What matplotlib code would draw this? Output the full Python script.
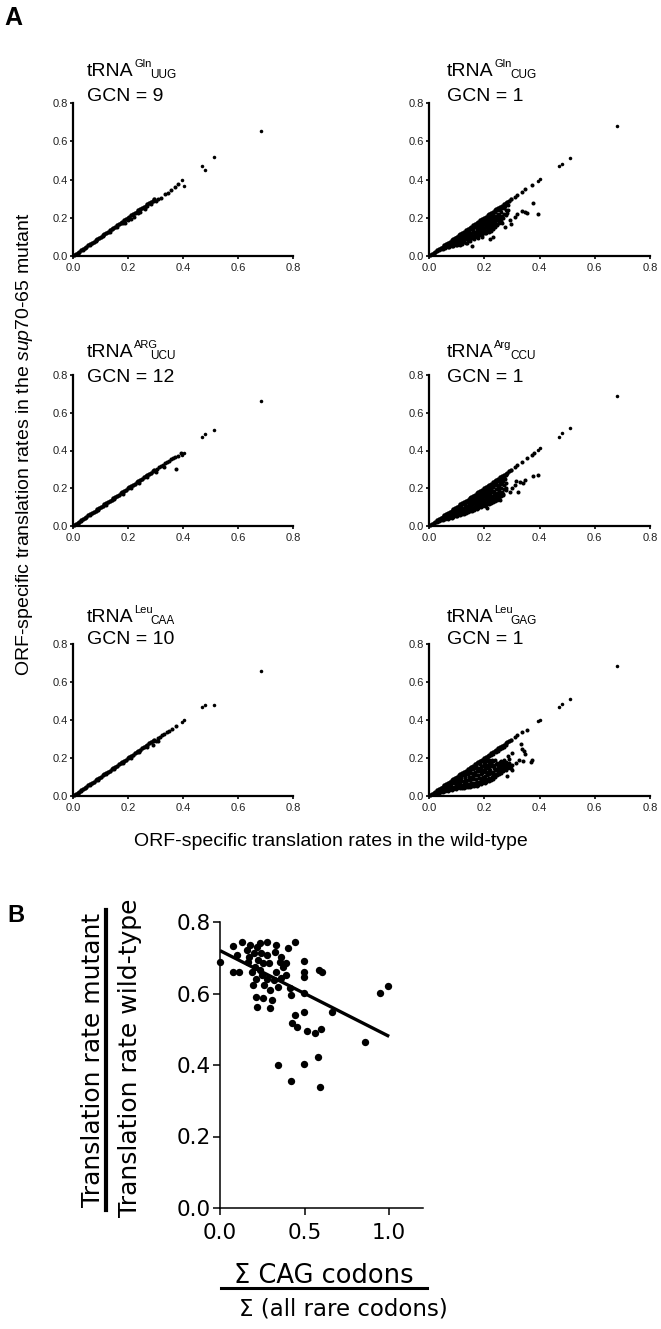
import matplotlib
matplotlib.use('Agg')
import matplotlib.pyplot as plt
from matplotlib.text import Annotation
from matplotlib.lines import Line2D

plt.rcParams['font.family'] = ['Liberation Sans', 'DejaVu Sans']
plt.rcParams['mathtext.fontset'] = 'custom'
plt.rcParams['mathtext.rm'] = 'Liberation Sans'
plt.rcParams['mathtext.it'] = 'Liberation Sans:italic'

# ---------------- Panel A data ----------------
amino_acids = ['Gln', 'Gln', 'ARG', 'Arg', 'Leu', 'Leu']
anticodons = ['UUG', 'CUG', 'UCU', 'CCU', 'CAA', 'GAG']
gcn_values = [9, 1, 12, 1, 10, 1]
ticks_a = [0.0, 0.2, 0.4, 0.6, 0.8]
tick_labels_a = ['0.0', '0.2', '0.4', '0.6', '0.8']

# genes that are unaffected (lie on the identity line) in all panels
wt_diag = [0.004, 0.010, 0.017, 0.023, 0.030, 0.036, 0.043, 0.049, 0.056, 0.062,
           0.069, 0.075, 0.082, 0.088, 0.095, 0.101, 0.108, 0.114, 0.121, 0.127,
           0.134, 0.140, 0.147, 0.153, 0.160, 0.166, 0.173, 0.179, 0.186, 0.192,
           0.199, 0.205, 0.212, 0.218, 0.225, 0.231, 0.238, 0.244, 0.251, 0.257,
           0.264, 0.270, 0.277, 0.283, 0.290, 0.296]

# highly translated outlier genes (wild-type rate), mutant rate per panel
wt_out = [0.682, 0.511, 0.481, 0.469, 0.402, 0.396]
uug_out = [0.656, 0.517, 0.450, 0.473, 0.368, 0.395]
cug_out = [0.682, 0.511, 0.482, 0.471, 0.401, 0.394]
ucu_out = [0.662, 0.510, 0.488, 0.470, 0.385, 0.378]
ccu_out = [0.689, 0.518, 0.491, 0.473, 0.412, 0.403]
caa_out = [0.660, 0.480, 0.478, 0.468, 0.400, 0.392]
gag_out = [0.682, 0.511, 0.482, 0.471, 0.401, 0.394]

uug_wt = [0.035, 0.06, 0.085, 0.11, 0.135, 0.16, 0.18, 0.19, 0.2, 0.21, 0.22, 0.235,
          0.245, 0.26, 0.27, 0.285, 0.3, 0.31, 0.32, 0.335, 0.345, 0.355, 0.37, 0.38]
uug_mut = [0.033, 0.057, 0.081, 0.104, 0.128, 0.152, 0.17, 0.172, 0.19, 0.196, 0.205, 0.225,
           0.228, 0.247, 0.262, 0.27, 0.29, 0.3, 0.305, 0.325, 0.33, 0.345, 0.36, 0.375]

cug_wt = [0.030, 0.044, 0.047, 0.058, 0.062, 0.073, 0.077, 0.075, 0.088, 0.092, 0.09,
          0.103, 0.107, 0.105, 0.101, 0.118, 0.122, 0.12, 0.116,
          0.133, 0.137, 0.135, 0.131, 0.138, 0.148, 0.152, 0.15, 0.146, 0.153,
          0.163, 0.167, 0.165, 0.161, 0.168, 0.162, 0.178, 0.182, 0.18, 0.176, 0.183, 0.177,
          0.193, 0.197, 0.195, 0.191, 0.198, 0.192, 0.208, 0.212, 0.21, 0.206, 0.213, 0.207,
          0.223, 0.227, 0.225, 0.221, 0.228, 0.222, 0.226, 0.238, 0.242, 0.24, 0.236, 0.243, 0.239,
          0.253, 0.257, 0.255, 0.258, 0.268, 0.272, 0.27, 0.283, 0.287,
          0.31, 0.32, 0.335, 0.348, 0.372, 0.348, 0.336, 0.318, 0.312, 0.354, 0.293, 0.297,
          0.275, 0.263, 0.245, 0.233, 0.221, 0.193, 0.155, 0.136, 0.112, 0.287, 0.269, 0.376, 0.396]
cug_mut = [0.024, 0.035, 0.042, 0.042, 0.052, 0.045, 0.058, 0.068, 0.05, 0.065, 0.08,
           0.055, 0.07, 0.085, 0.098, 0.062, 0.078, 0.092, 0.108,
           0.07, 0.087, 0.1, 0.115, 0.127, 0.078, 0.095, 0.11, 0.125, 0.14,
           0.088, 0.105, 0.12, 0.135, 0.15, 0.158, 0.096, 0.112, 0.128, 0.143, 0.158, 0.17,
           0.11, 0.125, 0.14, 0.155, 0.17, 0.182, 0.12, 0.135, 0.15, 0.165, 0.18, 0.195,
           0.13, 0.145, 0.16, 0.175, 0.19, 0.205, 0.215, 0.15, 0.165, 0.18, 0.195, 0.21, 0.228,
           0.17, 0.2, 0.215, 0.24, 0.2, 0.22, 0.25, 0.225, 0.265,
           0.31, 0.32, 0.335, 0.349, 0.372, 0.232, 0.237, 0.22, 0.206, 0.223, 0.188, 0.168,
           0.154, 0.171, 0.188, 0.101, 0.091, 0.101, 0.052, 0.066, 0.058, 0.241, 0.258, 0.276, 0.22]
cug_fill_wt = [0.037, 0.052, 0.053, 0.067, 0.068, 0.066, 0.082, 0.083, 0.081,
               0.097, 0.098, 0.096, 0.099, 0.112, 0.113, 0.111, 0.114,
               0.127, 0.128, 0.126, 0.129, 0.127, 0.142, 0.143, 0.141, 0.144, 0.142,
               0.157, 0.158, 0.156, 0.159, 0.157, 0.158, 0.172, 0.173, 0.171, 0.174, 0.172, 0.173,
               0.187, 0.188, 0.186, 0.189, 0.187, 0.188, 0.202, 0.203, 0.201, 0.204, 0.202, 0.203, 0.201,
               0.217, 0.218, 0.216, 0.219, 0.217, 0.218, 0.216, 0.232, 0.233, 0.231, 0.234, 0.232, 0.233, 0.231,
               0.247, 0.248, 0.246, 0.249, 0.247, 0.262, 0.263, 0.261, 0.264, 0.277, 0.278, 0.276]
cug_fill_mut = [0.03, 0.038, 0.047, 0.045, 0.055, 0.062, 0.05, 0.062, 0.074,
                0.058, 0.072, 0.086, 0.093, 0.065, 0.078, 0.092, 0.104,
                0.074, 0.088, 0.102, 0.115, 0.122, 0.083, 0.097, 0.11, 0.122, 0.133,
                0.092, 0.106, 0.12, 0.132, 0.145, 0.152, 0.1, 0.114, 0.128, 0.142, 0.155, 0.165,
                0.108, 0.122, 0.136, 0.15, 0.163, 0.176, 0.118, 0.132, 0.146, 0.16, 0.174, 0.188, 0.196,
                0.128, 0.142, 0.156, 0.17, 0.185, 0.2, 0.21, 0.14, 0.155, 0.17, 0.185, 0.2, 0.215, 0.225,
                0.16, 0.19, 0.205, 0.222, 0.238, 0.185, 0.21, 0.23, 0.25, 0.215, 0.24, 0.26]

ucu_wt = [0.03, 0.06, 0.09, 0.12, 0.15, 0.18, 0.21, 0.24, 0.27, 0.3, 0.305, 0.312,
          0.32, 0.328, 0.335, 0.342, 0.35, 0.357, 0.364, 0.37, 0.38, 0.392, 0.375, 0.33]
ucu_mut = [0.028, 0.056, 0.085, 0.113, 0.141, 0.17, 0.199, 0.228, 0.257, 0.285, 0.303, 0.31,
           0.318, 0.325, 0.333, 0.34, 0.347, 0.354, 0.36, 0.366, 0.372, 0.385, 0.30, 0.31]

ccu_wt = [0.029, 0.032, 0.044, 0.047, 0.058, 0.062, 0.06, 0.073, 0.077, 0.075,
          0.088, 0.092, 0.09, 0.091, 0.103, 0.107, 0.105, 0.104,
          0.118, 0.122, 0.12, 0.117, 0.121, 0.133, 0.137, 0.135, 0.132, 0.136,
          0.148, 0.152, 0.15, 0.147, 0.151, 0.149, 0.163, 0.167, 0.165, 0.162, 0.166, 0.164,
          0.178, 0.182, 0.18, 0.177, 0.181, 0.179, 0.193, 0.197, 0.195, 0.192, 0.196, 0.194, 0.198,
          0.208, 0.212, 0.21, 0.207, 0.211, 0.209, 0.213, 0.223, 0.227, 0.225, 0.222, 0.226, 0.224, 0.228,
          0.238, 0.242, 0.24, 0.237, 0.241, 0.239, 0.243, 0.253, 0.257, 0.255, 0.252, 0.256, 0.258,
          0.268, 0.272, 0.27, 0.267, 0.271,
          0.31, 0.32, 0.335, 0.354, 0.372, 0.38, 0.396, 0.378, 0.347, 0.341, 0.329, 0.323,
          0.311, 0.293, 0.269, 0.257, 0.233, 0.221, 0.209, 0.191, 0.30, 0.28, 0.315, 0.25]
ccu_mut = [0.02, 0.027, 0.03, 0.04, 0.036, 0.048, 0.056, 0.042, 0.055, 0.068,
           0.048, 0.062, 0.076, 0.086, 0.055, 0.07, 0.084, 0.098,
           0.062, 0.077, 0.092, 0.106, 0.116, 0.07, 0.085, 0.1, 0.114, 0.128,
           0.078, 0.093, 0.108, 0.122, 0.137, 0.146, 0.086, 0.1, 0.116, 0.13, 0.145, 0.158,
           0.094, 0.108, 0.123, 0.138, 0.153, 0.168, 0.105, 0.118, 0.133, 0.148, 0.163, 0.178, 0.188,
           0.11, 0.126, 0.142, 0.157, 0.172, 0.188, 0.2, 0.12, 0.135, 0.15, 0.165, 0.18, 0.196, 0.212,
           0.13, 0.148, 0.165, 0.18, 0.196, 0.215, 0.228, 0.15, 0.168, 0.185, 0.205, 0.225, 0.243,
           0.17, 0.195, 0.215, 0.24, 0.258,
           0.31, 0.322, 0.338, 0.359, 0.376, 0.385, 0.27, 0.267, 0.244, 0.226, 0.235, 0.182,
           0.217, 0.182, 0.164, 0.138, 0.182, 0.12, 0.094, 0.111, 0.2, 0.19, 0.24, 0.2]
ccu_fill_wt = [0.037, 0.038, 0.052, 0.053, 0.051, 0.067, 0.068, 0.066, 0.082, 0.083, 0.081, 0.084,
               0.097, 0.098, 0.096, 0.099, 0.112, 0.113, 0.111, 0.114, 0.112,
               0.127, 0.128, 0.126, 0.129, 0.127, 0.142, 0.143, 0.141, 0.144, 0.142, 0.143,
               0.157, 0.158, 0.156, 0.159, 0.157, 0.158, 0.172, 0.173, 0.171, 0.174, 0.172, 0.173,
               0.187, 0.188, 0.186, 0.189, 0.187, 0.188, 0.186, 0.202, 0.203, 0.201, 0.204, 0.202, 0.203, 0.201,
               0.217, 0.218, 0.216, 0.219, 0.217, 0.218, 0.216, 0.232, 0.233, 0.231, 0.234, 0.232, 0.233, 0.231,
               0.247, 0.248, 0.246, 0.249, 0.247, 0.248, 0.262, 0.263, 0.261, 0.264, 0.262, 0.263,
               0.277, 0.278, 0.276, 0.279]
ccu_fill_mut = [0.024, 0.032, 0.033, 0.043, 0.05, 0.039, 0.051, 0.062, 0.045, 0.058, 0.07, 0.078,
                0.052, 0.066, 0.08, 0.092, 0.058, 0.073, 0.088, 0.1, 0.108,
                0.066, 0.081, 0.096, 0.11, 0.122, 0.074, 0.089, 0.104, 0.118, 0.132, 0.14,
                0.082, 0.096, 0.112, 0.126, 0.141, 0.152, 0.09, 0.104, 0.12, 0.134, 0.149, 0.163,
                0.1, 0.113, 0.128, 0.143, 0.158, 0.173, 0.182, 0.108, 0.122, 0.137, 0.152, 0.167, 0.183, 0.195,
                0.115, 0.13, 0.146, 0.162, 0.177, 0.193, 0.208, 0.125, 0.142, 0.158, 0.172, 0.188, 0.205, 0.222,
                0.14, 0.158, 0.175, 0.195, 0.215, 0.236, 0.16, 0.18, 0.2, 0.22, 0.24, 0.252,
                0.2, 0.23, 0.25, 0.27]

caa_wt = [0.03, 0.06, 0.09, 0.12, 0.15, 0.18, 0.21, 0.24, 0.27, 0.3, 0.308, 0.316,
          0.324, 0.332, 0.34, 0.35, 0.36, 0.375, 0.29, 0.31]
caa_mut = [0.028, 0.057, 0.086, 0.114, 0.143, 0.172, 0.2, 0.229, 0.258, 0.287, 0.305, 0.313,
           0.32, 0.327, 0.335, 0.343, 0.355, 0.37, 0.27, 0.29]

gag_wt = [0.029, 0.032, 0.044, 0.047, 0.046, 0.058, 0.062, 0.06, 0.073, 0.077, 0.075, 0.076,
          0.088, 0.092, 0.09, 0.091, 0.103, 0.107, 0.105, 0.104, 0.106,
          0.118, 0.122, 0.12, 0.117, 0.121, 0.133, 0.137, 0.135, 0.132, 0.136, 0.138,
          0.148, 0.152, 0.15, 0.147, 0.151, 0.149, 0.163, 0.167, 0.165, 0.162, 0.166, 0.164, 0.168,
          0.178, 0.182, 0.18, 0.177, 0.181, 0.179, 0.183,
          0.193, 0.197, 0.195, 0.192, 0.196, 0.194, 0.198, 0.195,
          0.208, 0.212, 0.21, 0.207, 0.211, 0.209, 0.213, 0.21,
          0.223, 0.227, 0.225, 0.222, 0.226, 0.224, 0.228, 0.225,
          0.238, 0.242, 0.24, 0.237, 0.241, 0.239, 0.243,
          0.253, 0.257, 0.255, 0.252, 0.256, 0.258, 0.268, 0.272, 0.27, 0.267, 0.271, 0.27,
          0.283, 0.287, 0.285, 0.286, 0.298, 0.302,
          0.31, 0.32, 0.336, 0.354, 0.374, 0.37, 0.348, 0.345, 0.336, 0.333, 0.3, 0.302,
          0.281, 0.342, 0.324, 0.315, 0.29]
gag_mut = [0.015, 0.026, 0.02, 0.034, 0.044, 0.026, 0.04, 0.055, 0.03, 0.045, 0.06, 0.072,
           0.035, 0.05, 0.066, 0.085, 0.04, 0.056, 0.072, 0.088, 0.1,
           0.042, 0.06, 0.078, 0.095, 0.112, 0.045, 0.062, 0.08, 0.098, 0.115, 0.13,
           0.05, 0.067, 0.085, 0.102, 0.12, 0.138, 0.052, 0.07, 0.09, 0.108, 0.126, 0.145, 0.16,
           0.058, 0.076, 0.095, 0.113, 0.132, 0.15, 0.168,
           0.066, 0.084, 0.1, 0.12, 0.138, 0.156, 0.175, 0.19,
           0.075, 0.092, 0.11, 0.128, 0.146, 0.165, 0.183, 0.2,
           0.085, 0.102, 0.12, 0.138, 0.156, 0.174, 0.192, 0.215,
           0.1, 0.118, 0.136, 0.154, 0.17, 0.19, 0.23,
           0.115, 0.13, 0.15, 0.165, 0.18, 0.245, 0.13, 0.15, 0.165, 0.176, 0.19, 0.26,
           0.145, 0.16, 0.17, 0.21, 0.15, 0.165,
           0.31, 0.322, 0.337, 0.349, 0.188, 0.18, 0.223, 0.237, 0.25, 0.272, 0.227, 0.136,
           0.105, 0.185, 0.188, 0.175, 0.195]
gag_fill_wt = [0.037, 0.038, 0.052, 0.053, 0.051, 0.067, 0.068, 0.066, 0.069, 0.082, 0.083, 0.081, 0.084,
               0.097, 0.098, 0.096, 0.099, 0.097, 0.112, 0.113, 0.111, 0.114, 0.112,
               0.127, 0.128, 0.126, 0.129, 0.127, 0.128, 0.142, 0.143, 0.141, 0.144, 0.142, 0.143,
               0.157, 0.158, 0.156, 0.159, 0.157, 0.158, 0.156, 0.172, 0.173, 0.171, 0.174, 0.172, 0.173, 0.171,
               0.187, 0.188, 0.186, 0.189, 0.187, 0.188, 0.186, 0.189,
               0.202, 0.203, 0.201, 0.204, 0.202, 0.203, 0.201, 0.204,
               0.217, 0.218, 0.216, 0.219, 0.217, 0.218, 0.216, 0.219,
               0.232, 0.233, 0.231, 0.234, 0.232, 0.233, 0.231,
               0.247, 0.248, 0.246, 0.249, 0.247, 0.248, 0.262, 0.263, 0.261, 0.264, 0.262, 0.263,
               0.277, 0.278, 0.276, 0.279, 0.277, 0.292, 0.293, 0.291]
gag_fill_mut = [0.018, 0.03, 0.023, 0.037, 0.048, 0.028, 0.042, 0.056, 0.064, 0.032, 0.048, 0.063, 0.078,
                0.037, 0.053, 0.069, 0.085, 0.093, 0.041, 0.058, 0.075, 0.091, 0.106,
                0.043, 0.061, 0.079, 0.096, 0.113, 0.122, 0.047, 0.064, 0.082, 0.1, 0.118, 0.134,
                0.051, 0.068, 0.087, 0.105, 0.123, 0.141, 0.152, 0.055, 0.073, 0.092, 0.11, 0.129, 0.147, 0.164,
                0.062, 0.08, 0.097, 0.116, 0.135, 0.153, 0.171, 0.182,
                0.07, 0.088, 0.105, 0.124, 0.142, 0.16, 0.179, 0.196,
                0.08, 0.097, 0.115, 0.133, 0.151, 0.17, 0.188, 0.208,
                0.092, 0.11, 0.128, 0.146, 0.163, 0.182, 0.222,
                0.108, 0.124, 0.143, 0.16, 0.175, 0.237, 0.122, 0.14, 0.158, 0.17, 0.185, 0.252,
                0.138, 0.155, 0.168, 0.18, 0.268, 0.148, 0.162, 0.175]

# ---------------- Panel B data ----------------
b_x = [0.0, 0.074, 0.102, 0.11, 0.133, 0.157, 0.167, 0.18, 0.2, 0.206, 0.216, 0.192, 0.196,
       0.212, 0.22, 0.235, 0.245, 0.255, 0.251, 0.259, 0.255, 0.278, 0.294, 0.298, 0.31, 0.29,
       0.324, 0.333, 0.329, 0.343, 0.353, 0.363, 0.388, 0.402, 0.441, 0.412, 0.422, 0.498,
       0.498, 0.498, 0.498, 0.498, 0.441, 0.427, 0.455, 0.514, 0.559, 0.598, 0.584, 0.604,
       0.663, 0.855, 0.945, 0.996, 0.345, 0.422, 0.498, 0.582, 0.592, 0.078, 0.174, 0.226,
       0.235, 0.275, 0.318, 0.363, 0.373, 0.392, 0.278, 0.212]
b_y = [0.687, 0.734, 0.708, 0.659, 0.745, 0.722, 0.689, 0.736, 0.712, 0.675, 0.731, 0.661,
       0.624, 0.591, 0.561, 0.741, 0.712, 0.684, 0.652, 0.624, 0.587, 0.745, 0.61, 0.559,
       0.582, 0.684, 0.717, 0.736, 0.661, 0.619, 0.689, 0.703, 0.652, 0.726, 0.745, 0.615,
       0.596, 0.692, 0.661, 0.647, 0.601, 0.549, 0.54, 0.517, 0.507, 0.496, 0.489, 0.5,
       0.666, 0.661, 0.549, 0.465, 0.602, 0.621, 0.399, 0.355, 0.402, 0.423, 0.338, 0.661,
       0.703, 0.694, 0.666, 0.708, 0.638, 0.643, 0.675, 0.684, 0.64, 0.64]
fit_x = [0.0, 1.0]
fit_y = [0.72, 0.48]
ticks_bx = [0.0, 0.5, 1.0]
tick_labels_bx = ['0.0', '0.5', '1.0']
ticks_by = [0.0, 0.2, 0.4, 0.6, 0.8]
tick_labels_by = ['0.0', '0.2', '0.4', '0.6', '0.8']

# ---------------- Figure ----------------
W, H = 661, 1329
fig = plt.figure(figsize=(W / 100, H / 100), dpi=100)


def fx(p):
    return p / W


def fy(p):
    return 1 - p / H


panel_wt = [uug_wt, cug_wt, ucu_wt, ccu_wt, caa_wt, gag_wt]
panel_mut = [uug_mut, cug_mut, ucu_mut, ccu_mut, caa_mut, gag_mut]
panel_fill_wt = [[], cug_fill_wt, [], ccu_fill_wt, [], gag_fill_wt]
panel_fill_mut = [[], cug_fill_mut, [], ccu_fill_mut, [], gag_fill_mut]
panel_out = [uug_out, cug_out, ucu_out, ccu_out, caa_out, gag_out]

col_left = [73, 429]
col_right = [293, 650]
row_top = [103, 375, 644]
row_bot = [256, 526, 796]
title_x = [87, 447]
trna_base = [76.5, 357, 622]
gcn_base = [101, 382, 643.5]

for i in range(6):
    r, c = divmod(i, 2)
    ax = fig.add_axes([fx(col_left[c]), fy(row_bot[r]),
                       (col_right[c] - col_left[c]) / W, (row_bot[r] - row_top[r]) / H])
    ax.scatter(wt_diag, wt_diag, s=10, c='black', linewidths=0, clip_on=False)
    ax.scatter(wt_out, panel_out[i], s=6.5, c='black', linewidths=0, clip_on=False)
    ax.scatter(panel_wt[i], panel_mut[i], s=8.5, c='black', linewidths=0, clip_on=False)
    if panel_fill_wt[i]:
        ax.scatter(panel_fill_wt[i], panel_fill_mut[i], s=8.5, c='black', linewidths=0,
                   clip_on=False)
    ax.set_xlim(0, 0.8)
    ax.set_ylim(0, 0.8)
    ax.set_xticks(ticks_a)
    ax.set_xticklabels(tick_labels_a)
    ax.set_yticks(ticks_a)
    ax.set_yticklabels(tick_labels_a)
    for s in ['top', 'right']:
        ax.spines[s].set_visible(False)
    for s in ['left', 'bottom']:
        ax.spines[s].set_linewidth(1.6)
    ax.tick_params(direction='out', length=2.5, width=1.2, labelsize=8,
                   colors='black', labelcolor='#222222')
    ax.tick_params(axis='x', pad=2.5)
    ax.tick_params(axis='y', pad=1.2)

    t = fig.text(fx(title_x[c]), fy(trna_base[r]), 'tRNA', fontsize=14,
                 ha='left', va='baseline')
    fig.add_artist(Annotation(amino_acids[i], xy=(1, 0), xycoords=t, xytext=(0.6, 9.5),
                              textcoords='offset points', fontsize=8,
                              ha='left', va='baseline'))
    fig.add_artist(Annotation(anticodons[i], xy=(1, 0), xycoords=t, xytext=(12.0, 1.6),
                              textcoords='offset points', fontsize=8.5,
                              ha='left', va='baseline'))
    fig.text(fx(title_x[c]), fy(gcn_base[r]), f'GCN = {gcn_values[i]}', fontsize=14,
             ha='left', va='baseline')

fig.text(fx(4), fy(25), 'A', fontsize=18, fontweight='bold', ha='left', va='baseline')
fig.text(fx(25), fy(444),
         r'ORF-specific translation rates in the $\mathit{sup70}$-$\mathit{65}$ mutant',
         rotation=90, fontsize=14, ha='center', va='center')
fig.text(fx(331), fy(846), 'ORF-specific translation rates in the wild-type',
         fontsize=14, ha='center', va='baseline')

# ---------------- Panel B ----------------
bfont = 'DejaVu Sans'
axb = fig.add_axes([fx(220), fy(1208), 203 / W, 286 / H])
axb.scatter(b_x, b_y, s=28, c='black', linewidths=0, clip_on=False, zorder=3)
axb.plot(fit_x, fit_y, color='black', lw=2.4, solid_capstyle='butt', zorder=4)
axb.set_xlim(0, 1.2)
axb.set_ylim(0, 0.8)
axb.set_xticks(ticks_bx)
axb.set_xticklabels(tick_labels_bx, fontfamily=bfont, fontsize=15.5)
axb.set_yticks(ticks_by)
axb.set_yticklabels(tick_labels_by, fontfamily=bfont, fontsize=15.5)
for s in ['top', 'right']:
    axb.spines[s].set_visible(False)
for s in ['left', 'bottom']:
    axb.spines[s].set_linewidth(1.1)
axb.tick_params(direction='out', length=5, width=1.1, colors='black')
axb.tick_params(axis='x', pad=6)
axb.tick_params(axis='y', pad=1.5)

fig.text(fx(7), fy(922), 'B', fontsize=17, fontweight='bold', ha='left', va='baseline')

fig.text(fx(100), fy(1060), 'Translation rate mutant', family=bfont, fontsize=18,
         rotation=90, rotation_mode='anchor', ha='center', va='baseline')
fig.text(fx(137), fy(1058), 'Translation rate wild-type', family=bfont, fontsize=18,
         rotation=90, rotation_mode='anchor', ha='center', va='baseline')
fig.add_artist(Line2D([fx(106), fx(106)], [fy(910), fy(1210)], lw=3, color='black'))

fig.text(fx(324), fy(1283), 'Σ CAG codons', family=bfont, fontsize=18.5,
         ha='center', va='baseline')
fig.add_artist(Line2D([fx(221), fx(427)], [fy(1288), fy(1288)], lw=2.2, color='black'))
fig.text(fx(343), fy(1315), 'Σ (all rare codons)', family=bfont, fontsize=16.5,
         ha='center', va='baseline')

fig.savefig('out.png', dpi=100)
